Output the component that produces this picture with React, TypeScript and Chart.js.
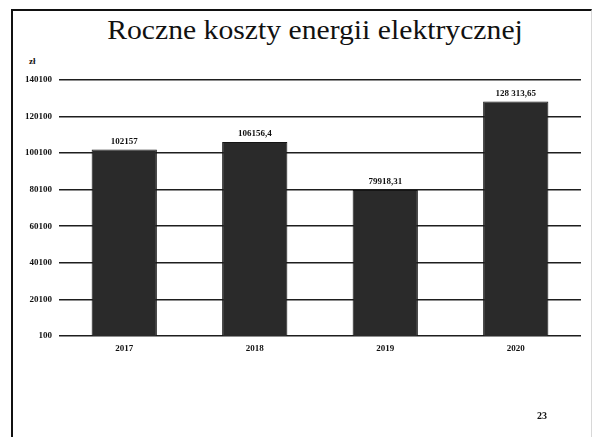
import React, { useEffect, useRef } from "react";
import { Chart, registerables } from "chart.js";

Chart.register(...registerables);

const categories = ["2017", "2018", "2019", "2020"];
const costs = [102157, 106156.4, 79918.31, 128313.65];
const valueLabels = ["102157", "106156,4", "79918,31", "128 313,65"];
const yMin = 100;
const yMax = 140100;
const yStep = 20000;

const SERIF = "'Liberation Serif', 'Times New Roman', serif";

const valueLabelPlugin = {
  id: "valueLabels",
  afterDatasetsDraw(chart: any) {
    const ctx = chart.ctx;
    const meta = chart.getDatasetMeta(0);
    ctx.save();
    ctx.font = `bold 9px ${SERIF}`;
    ctx.fillStyle = "#111";
    ctx.textAlign = "center";
    ctx.textBaseline = "middle";
    meta.data.forEach((bar: any, i: number) => {
      ctx.fillText(valueLabels[i], bar.x, bar.y - 8);
    });
    ctx.restore();
  },
};

export default function App() {
  const canvasRef = useRef<HTMLCanvasElement | null>(null);

  useEffect(() => {
    if (!canvasRef.current) return;
    const chart = new Chart(canvasRef.current, {
      type: "bar",
      data: {
        labels: categories,
        datasets: [
          {
            data: costs,
            backgroundColor: "#2a2a2a",
            borderColor: "#151515",
            borderWidth: 1,
            barPercentage: 0.5,
            categoryPercentage: 1,
          },
        ],
      },
      options: {
        animation: false,
        responsive: false,
        maintainAspectRatio: false,
        layout: { padding: { left: 0, right: 12, top: 80, bottom: 61 } },
        plugins: {
          legend: { display: false },
          tooltip: { enabled: false },
          title: { display: false },
        },
        scales: {
          x: {
            grid: { display: false, drawTicks: false },
            border: { display: false },
            ticks: {
              color: "#111",
              font: { family: SERIF, size: 9, weight: "bold" },
              padding: 7,
            },
            afterFit(scale: any) {
              scale.height = 40;
            },
          },
          y: {
            min: yMin,
            max: yMax,
            grid: { color: "#1e1e1e", lineWidth: 1.6, drawTicks: false },
            border: { display: false },
            ticks: {
              stepSize: yStep,
              color: "#111",
              font: { family: SERIF, size: 9, weight: "bold" },
              padding: 7,
              callback: (v: any) => String(v),
            },
            afterFit(scale: any) {
              scale.width = 59;
            },
          },
        },
      },
      plugins: [valueLabelPlugin],
    });
    return () => chart.destroy();
  }, []);

  return (
    <div style={{ position: "absolute", left: 0, top: 0, width: 593, height: 437, background: "#fff", overflow: "hidden" }}>
      <div
        style={{
          position: "absolute",
          left: 11,
          top: 9,
          width: 578,
          height: 440,
          borderTop: "2px solid #111",
          borderLeft: "2px solid #111",
          borderRight: "1px solid #d8d8d8",
        }}
      />
      <div
        style={{
          position: "absolute",
          left: 0,
          width: 630,
          top: 16,
          textAlign: "center",
          fontFamily: SERIF,
          fontSize: 28,
          lineHeight: "27px",
          color: "#111",
          whiteSpace: "nowrap",
          transform: "scaleX(1.06)",
          transformOrigin: "315px 0",
        }}
      >
        Roczne koszty energii elektrycznej
      </div>
      <div
        style={{
          position: "absolute",
          left: 29,
          top: 57,
          fontFamily: SERIF,
          fontSize: 9,
          fontWeight: "bold",
          lineHeight: "9px",
          color: "#111",
        }}
      >
        zł
      </div>
      <canvas ref={canvasRef} width={593} height={437} style={{ position: "absolute", left: 0, top: 0 }} />
      <div
        style={{
          position: "absolute",
          left: 537,
          top: 411,
          fontFamily: SERIF,
          fontSize: 10,
          fontWeight: "bold",
          lineHeight: "10px",
          color: "#111",
        }}
      >
        23
      </div>
    </div>
  );
}
